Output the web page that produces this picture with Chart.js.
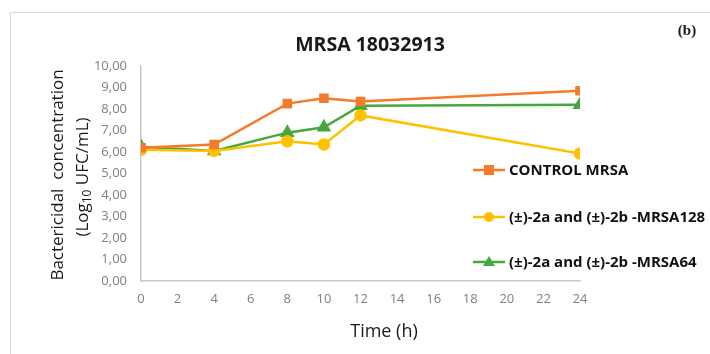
<!DOCTYPE html>
<html>
<head>
<meta charset="utf-8">
<script src="https://cdn.jsdelivr.net/npm/chart.js@4/dist/chart.umd.min.js"></script>
<style>
  body { margin: 0; background: #fff; }
  canvas { display: block; }
</style>
</head>
<body>
<canvas id="myChart" width="710" height="354"></canvas>
<script>
// Data
const hours = [0, 4, 8, 10, 12, 24];
const controlMrsa = [6.2, 6.35, 8.25, 8.5, 8.35, 8.85];
const mrsa128 = [6.1, 6.05, 6.5, 6.35, 7.7, 5.93];
const mrsa64 = [6.25, 6.05, 6.9, 7.15, 8.15, 8.2];
const seriesLabels = ['CONTROL MRSA', '(±)-2a and (±)-2b -MRSA128', '(±)-2a and (±)-2b -MRSA64'];
const chartTitle = 'MRSA 18032913';

const FONT = '"Open Sans", sans-serif';

function toPoints(values) {
    return hours.map((h, i) => ({ x: h, y: values[i] }));
}

// Titles, frame and legend are painted by hand
const decorations = {
    id: 'decorations',
    afterDraw(chart) {
        const c = chart.ctx;
        c.save();

        // light frame round the figure
        c.strokeStyle = '#d9d9d9';
        c.lineWidth = 1;
        c.beginPath();
        c.moveTo(10.5, 360);
        c.lineTo(10.5, 12.5);
        c.lineTo(720, 12.5);
        c.stroke();

        // chart title
        c.fillStyle = '#1a1a1a';
        c.font = 'bold 19.5px ' + FONT;
        c.textAlign = 'center';
        c.textBaseline = 'middle';
        c.fillText(chartTitle, 370, 45);

        // panel letter
        c.font = 'bold 15px "Liberation Serif", serif';
        c.fillText('(b)', 687, 31);

        // x axis title
        c.fillStyle = '#1a1a1a';
        c.font = '18px ' + FONT;
        c.fillText('Time (h)', 384, 332);

        // y axis title, two lines rotated
        c.save();
        c.translate(58, 175);
        c.rotate(-Math.PI / 2);
        c.font = '17px ' + FONT;
        c.fillText('Bactericidal  concentration', 0, 0);
        c.restore();

        c.save();
        c.translate(83, 177);
        c.rotate(-Math.PI / 2);
        c.textAlign = 'left';
        const big = '17px ' + FONT, small = '12px ' + FONT;
        const p1 = '(Log', p3 = ' UFC/mL)';
        c.font = small;
        const w2 = c.measureText('10').width;
        c.font = big;
        const w1 = c.measureText(p1).width, w3 = c.measureText(p3).width;
        let x = -(w1 + w2 + w3) / 2;
        c.fillText(p1, x, 0);
        x += w1;
        c.font = small;
        c.fillText('10', x, 5);
        x += w2;
        c.font = big;
        c.fillText(p3, x, 0);
        c.restore();

        // legend
        const rows = [170, 217, 262];
        chart.data.datasets.forEach((ds, i) => {
            const y = rows[i];
            c.strokeStyle = ds.borderColor;
            c.lineWidth = 2.5;
            c.beginPath();
            c.moveTo(473, y);
            c.lineTo(505, y);
            c.stroke();
            drawMarker(c, ds.pointStyle, 489, y, 5, ds.borderColor);
            c.fillStyle = '#111';
            c.font = 'bold 15px ' + FONT;
            c.textAlign = 'left';
            c.fillText(ds.label, 509, y + 1);
        });

        c.restore();
    }
};

function drawMarker(c, style, x, y, r, color) {
    c.fillStyle = color;
    c.beginPath();
    if (style === 'rect') {
        c.rect(x - r, y - r, 2 * r, 2 * r);
    } else if (style === 'triangle') {
        c.moveTo(x, y - r - 1);
        c.lineTo(x + r + 1, y + r - 1);
        c.lineTo(x - r - 1, y + r - 1);
        c.closePath();
    } else {
        c.arc(x, y, r, 0, Math.PI * 2);
    }
    c.fill();
}

const ctx = document.getElementById('myChart').getContext('2d');
const myChart = new Chart(ctx, {
    type: 'line',
    data: {
        datasets: [{
            label: seriesLabels[0],
            data: toPoints(controlMrsa),
            borderColor: '#f47a2c',
            backgroundColor: '#f47a2c',
            pointStyle: 'rect',
            pointRadius: 5,
            borderWidth: 2.5
        }, {
            label: seriesLabels[1],
            data: toPoints(mrsa128),
            borderColor: '#ffc000',
            backgroundColor: '#ffc000',
            pointStyle: 'circle',
            pointRadius: 5,
            borderWidth: 2.5
        }, {
            label: seriesLabels[2],
            data: toPoints(mrsa64),
            borderColor: '#45a83a',
            backgroundColor: '#45a83a',
            pointStyle: 'triangle',
            pointRadius: 6,
            borderWidth: 2.5
        }]
    },
    options: {
        responsive: false,
        animation: false,
        layout: { padding: { left: 0, right: 130, top: 66, bottom: 0 } },
        plugins: {
            legend: { display: false },
            title: { display: false },
            tooltip: { enabled: false }
        },
        scales: {
            x: {
                type: 'linear',
                min: 0,
                max: 24,
                ticks: {
                    stepSize: 2,
                    color: '#7f7f7f',
                    font: { family: FONT, size: 13 },
                    padding: 10
                },
                grid: { display: false, drawTicks: false },
                border: { color: '#c8c8c8', width: 1.5 },
                afterFit(scale) { scale.height = 73; }
            },
            y: {
                min: 0,
                max: 10,
                ticks: {
                    stepSize: 1,
                    color: '#7f7f7f',
                    font: { family: FONT, size: 13 },
                    padding: 14,
                    callback: v => v.toFixed(2).replace('.', ',')
                },
                grid: { display: false, drawTicks: false },
                border: { color: '#c8c8c8', width: 1.5 },
                afterFit(scale) { scale.width = 141; }
            }
        }
    },
    plugins: [decorations]
});
</script>
</body>
</html>
